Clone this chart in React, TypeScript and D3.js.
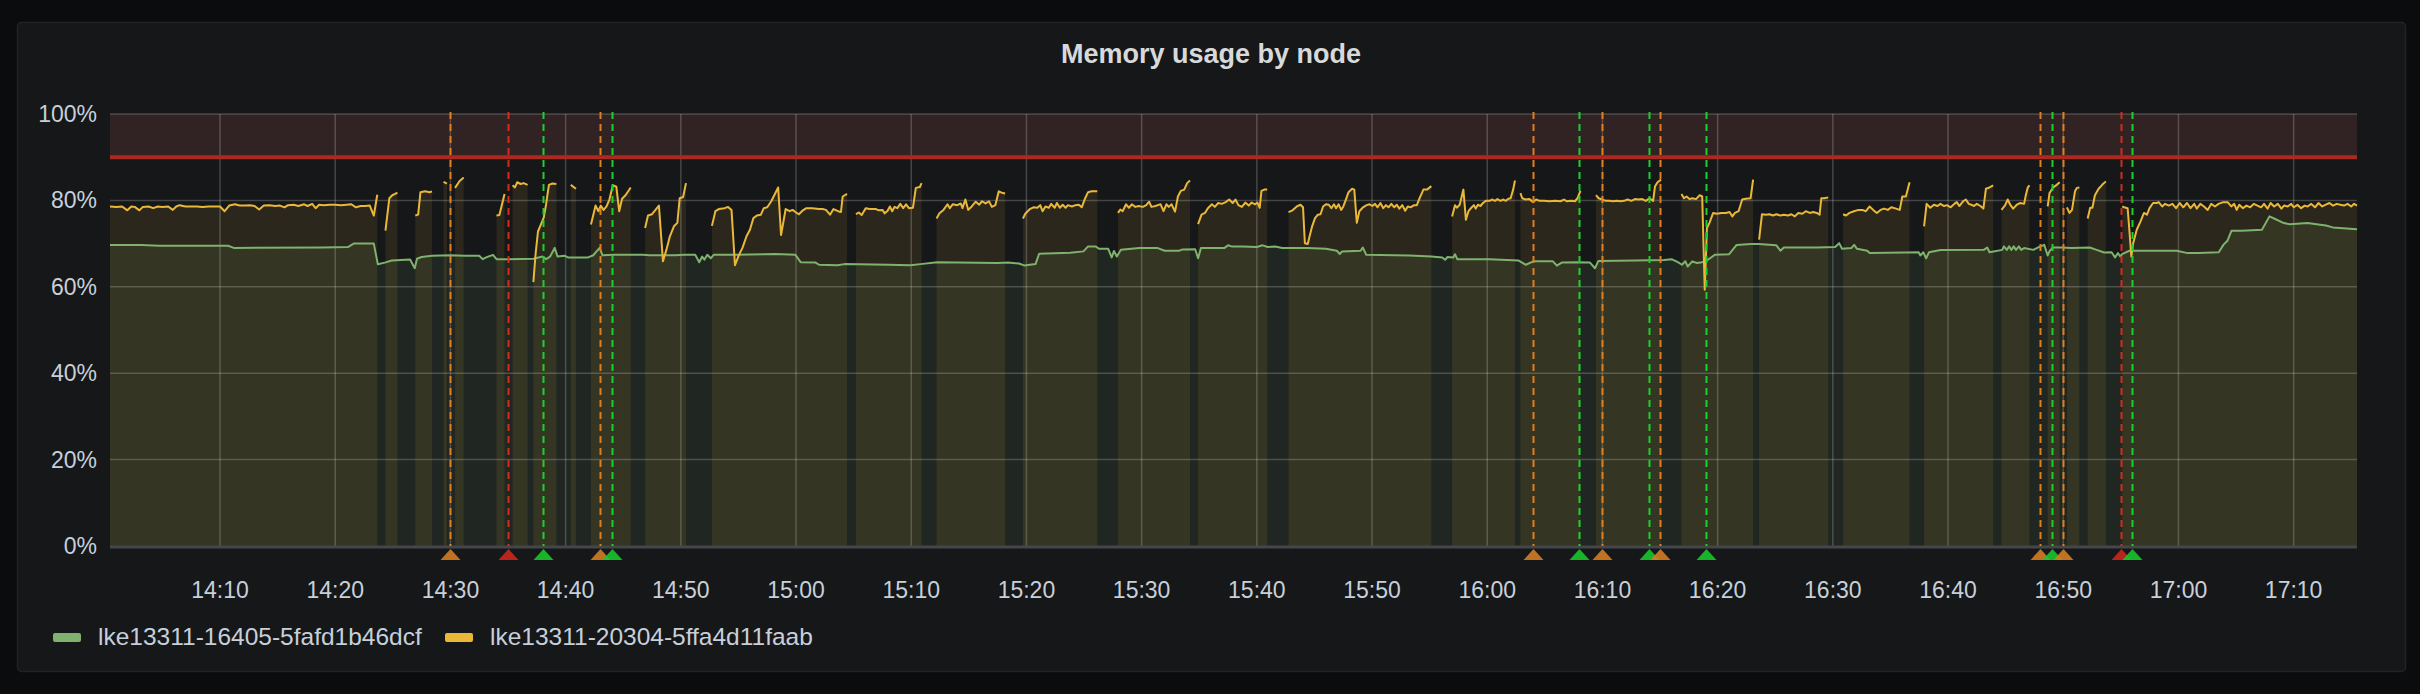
import React from "react";
import * as d3 from "d3";

// ---------- data (minutes after 14:00, percent) ----------
const domainMinutes = [0.45, 195.5];
const xTickLabels = ["14:10", "14:20", "14:30", "14:40", "14:50", "15:00", "15:10", "15:20", "15:30", "15:40", "15:50", "16:00", "16:10", "16:20", "16:30", "16:40", "16:50", "17:00", "17:10"];
const yTickValues = [0, 20, 40, 60, 80, 100];
const seriesNames = ["lke13311-16405-5fafd1b46dcf", "lke13311-20304-5ffa4d11faab"];
const seriesColors = ["#7EB26D", "#EAB839"];
const thresholdPct = 90;
const annotationTimes = ["14:30", "14:35", "14:38", "14:43", "14:44", "16:04", "16:08", "16:10", "16:14", "16:15", "16:19", "16:48", "16:49", "16:50", "16:55", "16:56"];
const annotationKinds = ["orange", "red", "green", "orange", "green", "orange", "green", "orange", "green", "orange", "green", "orange", "green", "orange", "red", "green"];

type Pt = [number, number | null];

const greenSeries: Pt[] = [
  [0.45, 69.7], [3.2, 69.7], [4.7, 69.5], [10.7, 69.5], [11.2, 69.0], [18.9, 69.1], [21.1, 69.2], [21.6, 70.0], [23.35, 70.0], [23.7, 65.2], [24.3, 65.6], [24.9, 66.1], [25.7, 66.2], [26.5, 66.3], [26.9, 64.3], [27.1, 66.5], [27.5, 66.9], [28.4, 67.2], [30.0, 67.3], [31.2, 67.2], [32.5, 67.2], [32.8, 66.4], [33.1, 66.8], [33.7, 67.4], [34.0, 66.4], [35.0, 66.4], [37.2, 66.5], [38.0, 67.0], [38.3, 66.4], [38.65, 67.0], [39.05, 69.0], [39.3, 67.0], [39.9, 67.2], [40.2, 66.8], [41.95, 66.8], [42.4, 67.3], [42.95, 69.0], [43.2, 67.3], [44.2, 67.4], [46.7, 67.4], [47.3, 67.3], [49.5, 67.3],
  [50.3, 67.4], [51.25, 67.4], [51.6, 65.7], [51.85, 67.0], [52.05, 66.3], [52.3, 67.4], [52.6, 66.6], [52.85, 67.4], [54.75, 67.4], [58.2, 67.6], [59.95, 67.4], [60.4, 65.7], [61.7, 65.6], [62.0, 65.1], [63.6, 65.0], [64.2, 65.25], [68.0, 65.1], [69.9, 65.0], [70.8, 65.25], [72.25, 65.7], [77.5, 65.5], [78.4, 65.6], [79.35, 65.4], [79.8, 64.95], [80.8, 65.3], [81.1, 67.65], [83.8, 67.9], [84.95, 68.2], [85.35, 69.35], [86.0, 69.35], [86.3, 68.8], [87.1, 68.8], [87.4, 66.8], [87.6, 68.3], [87.85, 67.0], [88.2, 68.6], [89.8, 69.0], [91.35, 69.0], [92.0, 68.35], [93.25, 68.35], [93.55, 68.65], [94.65, 68.7], [94.9, 66.6], [95.15, 69.0], [97.2, 69.0], [97.5, 69.6], [97.8, 69.35],
  [98.75, 69.35], [100.0, 69.2], [100.5, 69.6], [100.95, 69.2], [101.6, 69.35], [102.2, 68.96], [104.4, 68.96], [106.0, 68.8], [106.95, 68.35], [107.2, 67.6], [107.4, 68.2], [109.0, 68.35], [109.2, 69.1], [109.5, 67.4], [113.25, 67.25], [115.15, 67.0], [116.1, 66.8], [116.35, 66.25], [116.55, 66.9], [117.05, 66.8], [117.2, 67.55], [117.4, 66.4], [120.2, 66.4], [122.7, 66.1], [123.35, 65.1], [124.0, 65.9], [125.7, 65.9], [126.05, 64.9], [126.5, 65.65], [127.8, 65.7], [128.9, 65.65], [129.35, 64.3], [129.65, 66.0], [132.8, 66.1], [135.35, 66.2], [136.0, 66.4], [136.55, 65.7], [136.9, 65.1], [137.2, 65.9], [137.4, 64.7], [137.8, 65.9], [138.2, 65.5], [138.65, 65.7], [139.15, 66.25], [139.75, 67.4], [141.0, 67.55], [141.65, 69.7], [142.9, 69.9], [143.55, 69.9], [145.1, 69.6], [145.45, 68.35], [145.75, 69.1],
  [148.6, 69.1], [150.2, 69.2], [150.55, 70.1], [150.8, 68.8], [151.6, 68.96], [151.85, 69.7], [152.1, 68.8], [153.0, 68.35], [153.2, 67.8], [156.2, 67.95], [157.45, 68.0], [157.6, 67.25], [157.85, 68.0], [158.1, 66.6], [158.35, 68.0], [159.35, 68.5], [163.1, 68.55], [163.4, 69.1], [163.6, 68.0], [164.7, 68.55], [164.85, 69.35], [165.1, 68.55], [165.3, 69.35], [165.5, 68.55], [165.7, 69.35], [165.9, 68.55], [166.15, 69.35], [166.35, 68.55], [166.6, 68.96], [167.4, 68.55], [168.0, 69.35], [168.35, 69.7], [168.65, 67.25], [168.8, 68.2], [169.1, 69.1], [169.9, 69.1], [170.7, 68.96], [172.3, 69.1], [172.9, 68.55], [173.55, 67.95], [174.2, 68.0], [174.5, 66.8], [174.75, 67.8], [174.95, 67.0], [175.1, 67.55], [175.75, 68.35], [176.2, 68.35], [179.85, 68.35], [180.8, 67.8], [181.75, 67.8], [183.5, 68.0], [183.9, 69.7], [184.25, 70.65], [184.6, 72.95], [185.5, 72.95], [187.25, 73.2], [187.9, 76.3], [188.35, 75.75], [189.15, 74.75], [189.65, 74.5], [191.2, 74.75], [192.8, 74.2], [193.4, 73.75], [195.5, 73.35],
];

const yellowSeries: Pt[] = [
  [0.45, 78.6], [1, 78.5], [1.5, 78.6], [1.95, 77.7], [2.3, 78.6], [2.6, 78.5], [3.0, 77.7], [3.3, 78.5], [3.8, 78.6], [4.2, 78.2], [4.6, 78.6], [5, 78.5], [5.5, 78.6], [5.9, 77.8], [6.2, 78.6], [6.5, 78.9], [7, 78.6], [7.5, 78.6], [8, 78.6], [8.5, 78.5], [9, 78.6], [9.5, 78.6], [10, 78.6], [10.4, 77.5], [10.8, 78.8], [11.3, 79.1], [11.7, 78.8], [12.2, 78.8], [12.6, 78.9], [13.0, 78.7], [13.4, 77.9], [13.8, 78.8], [14.3, 78.9], [14.8, 78.7], [15.2, 78.8], [15.6, 78.4], [15.9, 78.9], [16.4, 79.0], [16.8, 78.7], [17.3, 79.1], [17.6, 78.7], [18.0, 79.2], [18.3, 78.2], [18.6, 79.0], [19.0, 78.9], [19.5, 79.0], [20, 79.0], [20.5, 78.9], [21, 79.0], [21.4, 79.1], [21.8, 78.4], [22.2, 78.7], [22.6, 78.7], [23.0, 78.8], [23.35, 76.5], [23.65, 81.3], [24.0, null],
  [24.36, 73.0], [24.7, 80.5], [24.95, 81.2], [25.2, 81.5], [25.4, 81.8], [26.0, null],
  [26.95, 76.5], [27.2, 76.7], [27.4, 81.9], [27.8, 82.1], [28.2, 81.9], [28.4, 82.1], [29.0, null],
  [29.4, 84.3], [29.7, 83.9], [30.0, null],
  [30.4, 82.9], [30.8, 84.5], [31.15, 85.3], [32.0, null],
  [34.0, 76.5], [34.25, 76.6], [34.7, 81.5], [35.0, null],
  [35.4, 83.5], [35.6, 83.0], [35.8, 84.2], [36.1, 83.8], [36.35, 84.0], [36.7, 83.6], [37.0, null],
  [37.2, 61.1], [37.4, 67.8], [37.6, 72.8], [37.85, 74.4], [38.1, 76.0], [38.3, 79.0], [38.55, 83.6], [38.85, 83.9], [39.2, 83.8], [40.0, null],
  [40.45, 83.6], [40.9, 82.7], [41.5, null],
  [42.2, 74.4], [42.6, 78.8], [42.85, 77.5], [43.05, 78.8], [43.3, 77.8], [43.55, 78.6], [43.8, 80.2], [44.1, 83.5], [44.4, 83.2], [44.65, 77.5], [44.9, 80.4], [45.2, 81.2], [45.65, 83.0], [46.3, null],
  [46.9, 73.6], [47.15, 76.5], [47.5, 76.8], [48.1, 78.8], [48.45, 65.9], [48.75, 68.6], [49.05, 71.7], [49.4, 74.0], [49.7, 74.8], [49.9, 80.5], [50.2, 80.8], [50.45, 84.0], [51.5, null],
  [52.7, 74.1], [53.0, 77.5], [53.3, 78.0], [53.8, 78.2], [54.1, 78.5], [54.4, 77.8], [54.7, 65.0], [55.05, 67.4], [55.35, 69.0], [55.7, 71.7], [56.0, 73.2], [56.3, 75.9], [56.6, 76.5], [56.95, 76.7], [57.2, 78.2], [57.5, 78.4], [57.85, 79.8], [58.45, 83.0], [58.7, 72.0], [59.1, 78.0], [59.45, 77.5], [59.7, 77.8], [59.95, 77.3], [60.25, 76.8], [60.6, 77.7], [60.9, 78.2], [61.4, 78.2], [62.0, 78.0], [62.3, 78.0], [62.6, 77.8], [62.95, 76.7], [63.25, 78.0], [63.65, 77.5], [63.9, 77.3], [64.05, 80.9], [64.43, 81.5], [64.8, null],
  [65.2, 76.8], [65.45, 77.2], [65.7, 76.6], [66.05, 78.2], [66.4, 78.0], [66.9, 78.0], [67.2, 77.7], [67.5, 77.8], [67.7, 77.0], [67.95, 77.6], [68.15, 78.6], [68.35, 77.5], [68.55, 78.5], [68.8, 78.2], [69.05, 79.2], [69.3, 78.2], [69.55, 79.1], [69.8, 78.2], [70.15, 78.3], [70.4, 82.9], [70.75, 83.1], [70.9, 84.0], [71.5, null],
  [72.2, 75.8], [72.45, 77.0], [72.8, 77.8], [73.15, 79.1], [73.35, 78.2], [73.6, 79.1], [74.0, 78.9], [74.3, 79.3], [74.45, 78.2], [74.7, 80.2], [74.95, 77.8], [75.25, 78.6], [75.6, 79.7], [75.9, 79.0], [76.15, 79.8], [76.45, 79.3], [76.75, 79.8], [77.0, 78.5], [77.3, 78.9], [77.6, 82.1], [77.95, 81.7], [78.15, 81.6], [79.0, null],
  [79.7, 75.8], [79.9, 76.9], [80.3, 78.0], [80.6, 78.4], [80.95, 78.3], [81.2, 78.9], [81.4, 77.5], [81.65, 78.6], [81.95, 78.3], [82.15, 79.2], [82.45, 78.3], [82.65, 79.4], [82.9, 78.3], [83.15, 79.0], [83.4, 78.3], [83.6, 78.9], [83.95, 78.6], [84.25, 78.9], [84.55, 79.0], [84.8, 78.4], [85.05, 80.2], [85.35, 81.9], [85.65, 82.1], [86.15, 82.1], [87.0, null],
  [87.95, 77.1], [88.15, 77.9], [88.35, 77.5], [88.65, 79.1], [88.9, 78.3], [89.15, 79.1], [89.45, 78.5], [89.75, 78.7], [90.1, 78.5], [90.4, 78.9], [90.65, 79.7], [90.85, 78.5], [91.2, 78.7], [91.4, 78.9], [91.65, 79.1], [91.9, 77.5], [92.15, 79.1], [92.35, 78.5], [92.6, 79.1], [92.9, 77.4], [93.15, 80.9], [93.4, 82.2], [93.7, 82.5], [93.95, 84.0], [94.2, 84.6], [94.5, null],
  [94.9, 74.5], [95.2, 76.7], [95.5, 77.1], [95.75, 78.2], [96.1, 79.1], [96.35, 78.5], [96.65, 79.4], [96.95, 79.2], [97.3, 79.6], [97.6, 80.2], [97.9, 79.4], [98.15, 80.2], [98.4, 78.9], [98.7, 78.5], [99.0, 79.5], [99.3, 78.8], [99.55, 79.5], [99.85, 79.1], [100.05, 79.5], [100.25, 78.3], [100.4, 82.2], [100.65, 82.5], [100.9, 82.5], [101.5, null],
  [102.75, 77.3], [103.1, 77.7], [103.47, 78.6], [103.79, 79.0], [104.01, 78.4], [104.17, 70.1], [104.42, 69.9], [104.58, 71.7], [104.8, 74.0], [105.05, 75.9], [105.3, 76.7], [105.53, 76.8], [105.75, 78.6], [106.0, 79.1], [106.25, 79.0], [106.47, 78.2], [106.69, 79.1], [106.88, 78.2], [107.1, 79.1], [107.32, 77.8], [107.51, 78.6], [107.73, 80.2], [107.96, 81.9], [108.27, 82.7], [108.46, 82.5], [108.68, 74.8], [108.9, 77.5], [109.22, 78.4], [109.53, 78.9], [109.79, 79.1], [110.04, 78.7], [110.26, 79.2], [110.48, 78.4], [110.73, 79.4], [110.98, 78.2], [111.21, 78.9], [111.43, 78.4], [111.68, 79.2], [111.93, 78.4], [112.15, 79.0], [112.37, 78.1], [112.63, 78.9], [112.88, 77.6], [113.1, 78.6], [113.35, 78.4], [113.64, 78.9], [113.89, 78.9], [114.14, 80.6], [114.46, 82.5], [114.77, 82.5], [115.15, 83.3], [116.0, null],
  [116.95, 76.3], [117.2, 78.9], [117.36, 78.3], [117.61, 79.0], [117.93, 82.5], [118.15, 75.5], [118.37, 77.5], [118.62, 78.3], [118.84, 78.9], [119.0, 78.1], [119.19, 79.0], [119.41, 78.7], [119.63, 79.4], [119.88, 79.9], [120.2, 79.9], [120.45, 80.2], [120.67, 79.9], [120.89, 80.3], [121.15, 79.9], [121.4, 80.2], [121.62, 79.9], [121.84, 80.4], [122.03, 80.5], [122.25, 82.5], [122.41, 84.6], [122.7, null],
  [122.88, 81.7], [123.04, 80.5], [123.35, 80.2], [123.67, 80.3], [123.99, 79.6], [124.24, 80.2], [124.55, 79.9], [124.93, 79.9], [125.41, 79.8], [125.88, 79.9], [126.35, 79.8], [126.67, 80.2], [126.89, 79.8], [127.3, 79.9], [127.61, 79.8], [127.84, 80.5], [128.09, 82.2], [128.8, null],
  [129.44, 81.2], [129.67, 80.5], [129.98, 80.2], [130.3, 79.9], [130.61, 79.9], [130.93, 79.8], [131.24, 79.9], [131.56, 79.8], [131.87, 79.9], [132.19, 80.2], [132.51, 79.9], [132.82, 80.3], [133.14, 80.2], [133.45, 80.3], [133.77, 79.9], [134.08, 80.5], [134.4, 79.9], [134.56, 83.2], [134.78, 84.2], [135.09, 84.8], [136.0, null],
  [136.86, 81.5], [137.08, 80.5], [137.3, 80.9], [137.56, 80.3], [137.81, 80.5], [138.12, 80.3], [138.44, 81.2], [138.66, 80.9], [138.88, 59.3], [139.07, 73.6], [139.29, 74.8], [139.61, 77.1], [139.92, 76.9], [140.33, 77.1], [140.71, 77.1], [141.03, 77.3], [141.28, 76.3], [141.5, 77.1], [141.82, 77.5], [142.13, 80.2], [142.45, 80.4], [142.86, 80.5], [143.08, 84.8], [143.35, null],
  [143.6, 70.9], [143.85, 76.8], [144.2, 76.7], [144.5, 76.8], [144.8, 76.5], [145.1, 76.8], [145.45, 76.5], [145.75, 76.7], [146.1, 76.5], [146.4, 76.8], [146.7, 76.3], [147.0, 77.1], [147.35, 76.9], [147.65, 77.5], [148.0, 77.1], [148.3, 77.3], [148.6, 77.1], [148.85, 76.7], [149.0, 80.5], [149.25, 80.5], [149.6, 80.7], [150.2, null],
  [150.89, 76.8], [151.14, 76.5], [151.45, 77.1], [151.83, 77.5], [152.24, 77.8], [152.56, 77.8], [152.87, 77.5], [153.19, 78.6], [153.5, 77.8], [153.82, 77.1], [154.14, 77.8], [154.45, 78.1], [154.77, 77.8], [155.08, 78.4], [155.49, 78.1], [155.81, 77.8], [156.03, 80.9], [156.34, 80.9], [156.66, 84.2], [157.3, null],
  [157.92, 74.0], [158.14, 79.2], [158.46, 78.3], [158.77, 79.0], [159.09, 78.7], [159.34, 79.2], [159.66, 78.7], [159.91, 78.9], [160.23, 78.4], [160.54, 79.2], [160.76, 79.6], [160.98, 78.7], [161.3, 79.8], [161.55, 80.2], [161.8, 79.2], [162.02, 79.0], [162.25, 78.7], [162.5, 79.2], [162.81, 78.7], [163.07, 78.1], [163.29, 82.7], [163.6, 83.0], [163.92, 83.5], [164.3, null],
  [164.64, 77.8], [164.96, 78.9], [165.18, 80.2], [165.4, 79.0], [165.65, 78.1], [165.97, 79.0], [166.28, 79.4], [166.6, 79.2], [166.76, 81.3], [166.92, 83.0], [167.07, 83.5], [167.8, null],
  [168.65, 78.6], [168.81, 81.7], [169.12, 83.0], [169.44, 83.6], [169.69, 84.2], [170.0, null],
  [170.32, 78.4], [170.54, 77.1], [170.76, 77.8], [171.02, 82.1], [171.18, 82.9], [171.4, 83.0], [171.8, null],
  [172.12, 75.8], [172.34, 78.3], [172.53, 78.3], [172.75, 81.2], [173.07, 82.7], [173.38, 83.6], [173.7, 84.4], [174.4, null],
  [175.12, 78.6], [175.28, 78.4], [175.59, 78.2], [175.75, 72.8], [175.91, 67.0], [176.07, 70.1], [176.38, 73.2], [176.7, 75.1], [177.01, 77.1], [177.27, 76.7], [177.49, 78.2], [177.8, 79.4], [178.12, 79.4], [178.28, 79.6], [178.59, 78.6], [178.84, 79.2], [179.16, 78.8], [179.48, 79.2], [179.79, 78.2], [180.11, 79.4], [180.42, 78.4], [180.74, 79.4], [181.05, 78.2], [181.37, 79.2], [181.59, 78.1], [181.9, 79.2], [182.22, 78.6], [182.54, 77.8], [182.85, 79.2], [183.17, 78.6], [183.48, 79.2], [183.89, 79.6], [184.27, 79.6], [184.59, 78.6], [184.84, 79.2], [185.06, 77.8], [185.28, 79.0], [185.6, 78.2], [185.91, 78.8], [186.23, 78.4], [186.54, 79.2], [186.86, 78.8], [187.17, 78.4], [187.43, 79.2], [187.74, 78.1], [188.0, 79.4], [188.31, 78.6], [188.63, 79.2], [188.94, 78.1], [189.16, 78.8], [189.48, 78.6], [189.79, 79.2], [190.02, 78.4], [190.33, 79.0], [190.65, 78.2], [190.96, 78.8], [191.21, 78.6], [191.53, 79.2], [191.85, 78.4], [192.16, 79.4], [192.48, 78.6], [192.79, 79.0], [193.11, 79.4], [193.42, 78.8], [193.74, 79.2], [194.05, 79.0], [194.37, 78.8], [194.68, 79.2], [195.0, 78.6], [195.25, 79.2], [195.5, 78.8],
];

// ---------- layout ----------
const W = 2420;
const H = 694;
const PANEL = { x: 17, y: 22, w: 2388, h: 649 };
const PLOT = { left: 110, right: 2357, top: 114, bottom: 546 };
const FONT = "'Liberation Sans', Arial, Helvetica, sans-serif";
const annotationColors: Record<string, string> = { orange: "#e07f22", red: "#d32c1f", green: "#1fcf32" };
const markerColors: Record<string, string> = { orange: "#d27c22", red: "#c9271d", green: "#19c42b" };

const baseTime = new Date(2021, 0, 13, 14, 0, 0).getTime();
const toDate = (m: number) => new Date(baseTime + m * 60000);
const hhmmToMinutes = (s: string) => {
  const [h, m] = s.split(":").map(Number);
  return (h - 14) * 60 + m;
};

export default function App() {
  const x = d3.scaleTime().domain([toDate(domainMinutes[0]), toDate(domainMinutes[1])]).range([PLOT.left, PLOT.right]);
  const y = d3.scaleLinear().domain([0, 100]).range([PLOT.bottom, PLOT.top]);

  const area = d3
    .area<Pt>()
    .defined((d) => d[1] !== null)
    .x((d) => x(toDate(d[0])))
    .y0(y(0))
    .y1((d) => y(d[1] as number));
  const line = d3
    .line<Pt>()
    .defined((d) => d[1] !== null)
    .x((d) => x(toDate(d[0])))
    .y((d) => y(d[1] as number));

  const series = [greenSeries, yellowSeries];
  const xTicks = xTickLabels.map((l) => ({ label: l, x: x(toDate(hhmmToMinutes(l))) }));

  return (
    <svg width={W} height={H} style={{ position: "fixed", left: 0, top: 0, display: "block" }} fontFamily={FONT}>
      <rect x={0} y={0} width={W} height={H} fill="#0b0c0e" />
      <rect x={PANEL.x + 0.5} y={PANEL.y + 0.5} width={PANEL.w} height={PANEL.h} rx={4} fill="#161719" stroke="#222327" strokeWidth={1.5} />
      <text x={PANEL.x + PANEL.w / 2} y={63} textAnchor="middle" fill="#d8d9da" fontSize={27} fontWeight="bold">
        Memory usage by node
      </text>

      {/* threshold band */}
      <rect x={PLOT.left} y={y(100)} width={PLOT.right - PLOT.left} height={y(thresholdPct) - y(100)} fill="rgba(234,112,112,0.13)" />

      {/* series fills */}
      {series.map((s, i) => (
        <path key={"a" + i} d={area(s) || ""} fill={seriesColors[i]} fillOpacity={0.1} />
      ))}

      {/* grid */}
      {yTickValues.map((v) => (
        <line key={"gy" + v} x1={PLOT.left} x2={PLOT.right} y1={y(v)} y2={y(v)} stroke="#ffffff" strokeOpacity={v === 0 ? 0 : 0.2} strokeWidth={1.5} />
      ))}
      {xTicks.map((t) => (
        <line key={"gx" + t.label} x1={t.x} x2={t.x} y1={PLOT.top} y2={PLOT.bottom} stroke="#ffffff" strokeOpacity={0.2} strokeWidth={1.5} />
      ))}

      {/* threshold line */}
      <line x1={PLOT.left} x2={PLOT.right} y1={y(thresholdPct)} y2={y(thresholdPct)} stroke="#aa2920" strokeWidth={4} />

      {/* series lines */}
      {series.map((s, i) => (
        <path key={"l" + i} d={line(s) || ""} fill="none" stroke={seriesColors[i]} strokeWidth={2} strokeLinejoin="round" />
      ))}

      {/* x axis baseline */}
      <line x1={PLOT.left} x2={PLOT.right} y1={PLOT.bottom + 1} y2={PLOT.bottom + 1} stroke="#44464b" strokeWidth={3} />

      {/* annotations */}
      {annotationTimes.map((t, i) => {
        const ax = Math.round(x(toDate(hhmmToMinutes(t)))) + 0.5;
        const k = annotationKinds[i];
        return (
          <g key={"an" + i}>
            <line x1={ax} x2={ax} y1={PLOT.top - 2} y2={PLOT.bottom} stroke={annotationColors[k]} strokeWidth={2} strokeDasharray="7 5" />
            <path d={`M${ax},${PLOT.bottom + 3} L${ax + 10},${PLOT.bottom + 14} L${ax - 10},${PLOT.bottom + 14} Z`} fill={markerColors[k]} fillOpacity={0.9} />
          </g>
        );
      })}

      {/* y tick labels */}
      {yTickValues.map((v) => (
        <text key={"ty" + v} x={97} y={y(v) + 8} textAnchor="end" fill="#c7d0d9" fontSize={23}>
          {v + "%"}
        </text>
      ))}
      {/* x tick labels */}
      {xTicks.map((t) => (
        <text key={"tx" + t.label} x={t.x} y={598} textAnchor="middle" fill="#c7d0d9" fontSize={23}>
          {t.label}
        </text>
      ))}

      {/* legend */}
      {seriesNames.map((n, i) => {
        const lx = i === 0 ? 53 : 445;
        return (
          <g key={"lg" + i}>
            <rect x={lx} y={633} width={28} height={9} rx={2} fill={seriesColors[i]} />
            <text x={lx + 45} y={645} fill="#c7d0d9" fontSize={24.5}>
              {n}
            </text>
          </g>
        );
      })}
    </svg>
  );
}
